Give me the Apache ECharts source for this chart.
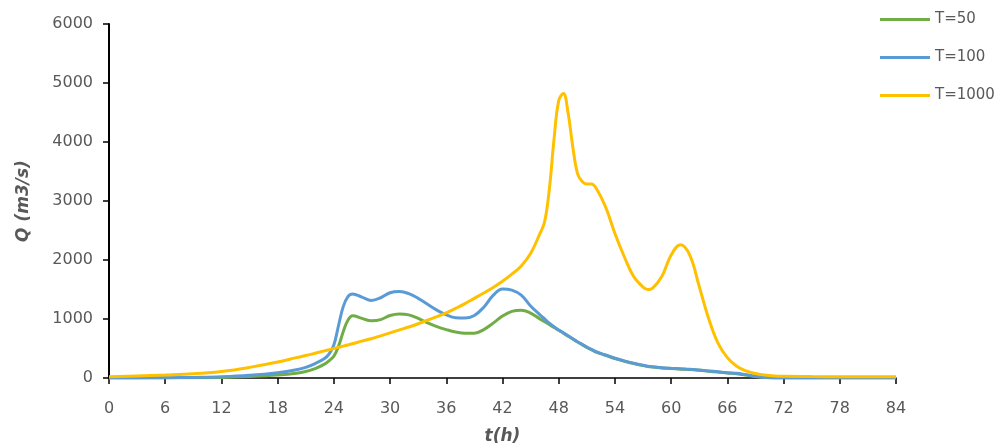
<!DOCTYPE html>
<html>
<head>
<meta charset="utf-8">
<script src="https://cdn.jsdelivr.net/npm/echarts@6/dist/echarts.min.js"></script>
<style>
  html, body { margin: 0; padding: 0; background: #fff; }
  #chart { width: 1004px; height: 448px; }
</style>
</head>
<body>
<div id="chart"></div>
<script>
// time (h)
var hours = [0, 3, 6, 9, 12, 15, 18,
    20, 21, 22, 23, 23.5, 24, 24.5, 25, 25.5, 26,
    27, 28, 29, 30, 31, 32, 33, 34, 35, 36, 37, 38, 39, 40, 41, 42, 43, 44, 45, 46,
    46.5, 47, 47.5, 48, 48.5, 49, 49.5, 50, 50.5, 51, 51.5,
    52, 53, 54, 55, 56, 57, 57.5,
    58, 59, 60, 61, 62, 63, 64, 65, 66, 67, 68, 69, 70, 71, 72,
    75, 78, 81, 84];

// Q (m3/s)
var q50 = [0, 1, 2, 5, 10, 25, 50,
    80, 110, 160, 235, 295, 370, 540, 785, 980, 1055,
    1010, 970, 990, 1060, 1085, 1070, 1010, 935, 870, 820, 780, 760, 760, 820, 930, 1050, 1130, 1150, 1100, 1000,
    955, 905, 855, 810, 760, 710, 660, 610, 565, 520, 480,
    440, 385, 330, 285, 245, 210, 195,
    185, 170, 160, 150, 142, 130, 115, 100, 85, 72, 50, 25, 8, 0, 0,
    0, 0, 0, 0];

var q100 = [0, 2, 5, 10, 20, 45, 90,
    140, 180, 245, 330, 410, 560, 890, 1210, 1380, 1425,
    1370, 1315, 1360, 1445, 1465, 1430, 1350, 1250, 1150, 1070, 1020, 1015, 1060, 1200, 1400, 1510, 1490, 1405, 1220, 1070,
    1000, 930, 870, 815, 765, 715, 665, 615, 570, 525, 485,
    445, 390, 335, 290, 250, 215, 200,
    190, 175, 165, 157, 150, 135, 120, 105, 90, 80, 55, 30, 10, 0, 0,
    0, 0, 0, 0];

var q1000 = [20, 35, 50, 70, 110, 180, 270,
    345, 380, 420, 460, 480, 500, 520, 540, 560, 580,
    625, 665, 715, 765, 815, 865, 920, 980, 1040, 1105, 1180, 1260, 1350, 1440, 1535, 1640, 1760, 1900, 2110, 2450,
    2650, 3200, 4050, 4700, 4820, 4490, 3920, 3470, 3330, 3290, 3290,
    3215, 2900, 2450, 2055, 1720, 1540, 1500,
    1520, 1720, 2085, 2260, 2080, 1550, 1010, 590, 345, 200, 120, 75, 50, 35, 28,
    24, 22, 20, 20];

var names = ['T=50', 'T=100', 'T=1000'];
var colors = ['#70AD47', '#5B9BD5', '#FFC000'];
var xTicks = [0, 84, 6];
var yTicks = [0, 6000, 1000];

function pairs(vals) {
    var out = [];
    for (var i = 0; i < hours.length; i++) {
        out.push([hours[i], vals[i]]);
    }
    return out;
}

var myChart = echarts.init(document.getElementById('chart'));

var labelFont = {
    color: '#595959',
    fontFamily: 'DejaVu Sans',
    fontSize: 16
};
var nameFont = {
    color: '#595959',
    fontFamily: 'DejaVu Sans',
    fontSize: 17,
    fontWeight: 'bold',
    fontStyle: 'italic'
};

var option = {
    animation: false,
    color: colors,
    grid: {
        left: 109,
        right: 108,
        top: 24,
        bottom: 70,
        outerBoundsMode: 'none'
    },
    legend: {
        orient: 'vertical',
        left: 875,
        top: 7,
        itemWidth: 50,
        itemHeight: 3,
        itemGap: 23,
        icon: 'rect',
        textStyle: {
            color: '#595959',
            fontFamily: 'DejaVu Sans',
            fontSize: 15
        },
        data: names
    },
    xAxis: {
        type: 'value',
        min: xTicks[0],
        max: xTicks[1],
        interval: xTicks[2],
        name: 't(h)',
        nameLocation: 'middle',
        nameGap: 50,
        nameTextStyle: nameFont,
        splitLine: { show: false },
        axisLine: { lineStyle: { color: '#000', width: 1.5 } },
        axisTick: { show: true, length: 6, lineStyle: { color: '#000', width: 1.5 } },
        axisLabel: Object.assign({ margin: 23 }, labelFont)
    },
    yAxis: {
        type: 'value',
        min: yTicks[0],
        max: yTicks[1],
        interval: yTicks[2],
        name: 'Q (m3/s)',
        nameLocation: 'middle',
        nameGap: 77,
        nameTextStyle: nameFont,
        splitLine: { show: false },
        axisLine: { show: true, lineStyle: { color: '#000', width: 2 } },
        axisTick: { show: true, length: 6, lineStyle: { color: '#000', width: 1.5 } },
        axisLabel: Object.assign({
            margin: 16,
            formatter: function (v) { return String(v); }
        }, labelFont)
    },
    series: [
        {
            name: names[0],
            type: 'line',
            smooth: 0.4,
            showSymbol: false,
            lineStyle: { width: 3 },
            data: pairs(q50)
        },
        {
            name: names[1],
            type: 'line',
            smooth: 0.4,
            showSymbol: false,
            lineStyle: { width: 3 },
            data: pairs(q100)
        },
        {
            name: names[2],
            type: 'line',
            smooth: 0.4,
            showSymbol: false,
            lineStyle: { width: 3 },
            data: pairs(q1000)
        }
    ]
};

myChart.setOption(option, true);
</script>
</body>
</html>
